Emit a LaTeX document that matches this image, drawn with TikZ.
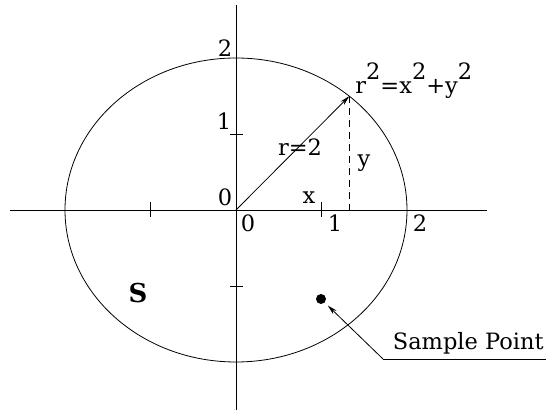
\documentclass[tikz,border=0pt]{standalone}
\usepackage{fontspec}
\setmainfont{DejaVu Serif}
\usetikzlibrary{arrows.meta,positioning,calc}
\newcommand{\sq}{\raisebox{.65em}{2}}

\begin{document}
\begin{tikzpicture}[
  x=85.5pt, y=76pt,
  every node/.style={font=\fontsize{22.5}{24}\selectfont, inner sep=1pt},
  dot/.style={circle, fill, inner sep=0pt, minimum size=10pt},
  >={Stealth[length=10pt,width=5pt]},
  line width=0.8pt
]
\useasboundingbox (-236pt,-204pt) rectangle (310pt,210pt);
% axes and circle
\coordinate (O) at (0,0);
\draw (-226pt,0pt) -- (251pt,0pt);
\draw (0pt,205pt) -- (0pt,-200pt);
\draw (O) ellipse [x radius=171pt, y radius=152pt];
\foreach \t in {-1,1} {
  \draw (\t,0) ++(0,-7pt) -- ++(0,15pt);
  \draw (0,\t) ++(-6pt,0) -- ++(13pt,0);
}
% radius and projection
\coordinate (P) at (48.5:2);
\draw[->] (O) -- (P);
\draw[dash pattern=on 7pt off 5pt] (P) -- (P |- O);
% axis labels
\node (ytwo) at (-11pt,162pt) {2};
\node (yone) at (-12pt,89pt) {1};
\node (zl) at (-11pt,13pt) {0};
\node (zr) at (12pt,-13pt) {0};
\node (xone) at (99pt,-13pt) {1};
\node (xtwo) at (184pt,-13pt) {2};
\node (xlab) at (73pt,12pt) {x};
\node (ylab) at (128pt,47pt) {y};
\node (rlab) at (64pt,63pt) {r=2};
\node[anchor=base west] (eq) at (118pt,116pt) {r\sq=x\sq+y\sq};
\node[font=\fontsize{26}{28}\selectfont\bfseries] (S) at (-98pt,-83pt) {S};
% sample point
\node[dot] (spt) at (85pt,-89pt) {};
\coordinate (knee) at (147pt,-149pt);
\coordinate (lend) at (310pt,-149pt);
\draw[->, shorten >=4pt] (knee) -- (spt);
\draw (knee) -- (lend);
\node[above left=3pt and 1pt of lend] (splab) {Sample Point};
\end{tikzpicture}
\end{document}
